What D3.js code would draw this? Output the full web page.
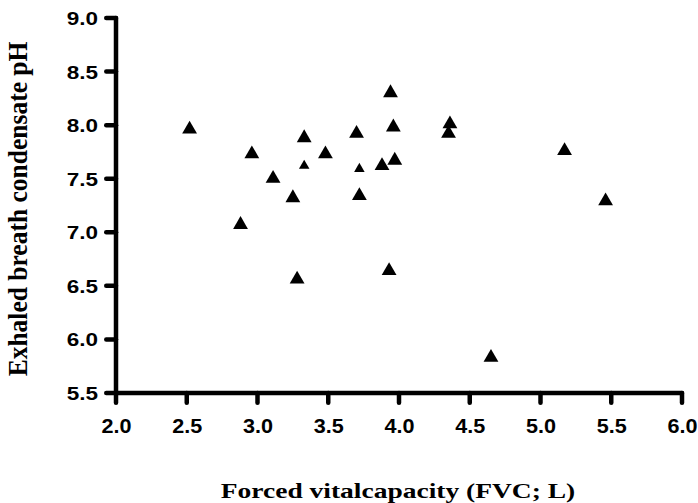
<!DOCTYPE html>
<html>
<head>
<meta charset="utf-8">
<script src="https://cdn.jsdelivr.net/npm/d3@7"></script>
<style>
  body { margin: 0; background: #fff; }
  svg { display: block; }
</style>
</head>
<body>
<svg class="plot" width="698" height="503"></svg>
<script>
// forced vital capacity (L) and exhaled breath condensate pH per subject
const fvc = [2.52, 2.96, 3.33, 3.33, 3.48, 3.11, 3.25, 2.88, 3.28, 3.70, 3.72,
  3.72, 3.88, 3.97, 3.96, 3.94, 3.93, 4.36, 4.35, 5.17, 5.46, 4.65]
const ph = [7.98, 7.75, 7.90, 7.64, 7.75, 7.52, 7.34, 7.09, 6.58, 7.94, 7.61,
  7.36, 7.64, 7.69, 8.00, 8.32, 6.66, 8.03, 7.94, 7.78, 7.31, 5.85]
// points drawn with the smaller marker
const smallMarker = [3, 10]

const xTicks = [2.0, 2.5, 3.0, 3.5, 4.0, 4.5, 5.0, 5.5, 6.0]
const yTicks = [5.5, 6.0, 6.5, 7.0, 7.5, 8.0, 8.5, 9.0]

const points = fvc.map((v, i) => ({ fvc: v, ph: ph[i], small: smallMarker.includes(i) }))

function renderPlot() {
  const svg = d3.select(".plot")
  const left = 116, right = 682, top = 18, bottom = 393
  const lw = 4.5, tickLen = 12

  const x = d3.scaleLinear().domain([2, 6]).range([left, right])
  const y = d3.scaleLinear().domain([5.5, 9]).range([bottom, top])

  const xAxis = svg.append("g")
    .attr("transform", `translate(0,${bottom})`)
    .call(d3.axisBottom(x).tickValues(xTicks).tickFormat(d3.format(".1f"))
      .tickSize(tickLen).tickSizeOuter(0))

  const yAxis = svg.append("g")
    .attr("transform", `translate(${left},0)`)
    .call(d3.axisLeft(y).tickValues(yTicks).tickFormat(d3.format(".1f"))
      .tickSize(tickLen).tickSizeOuter(0))

  // heavy axis lines drawn as filled bars (thin d3 strokes hidden)
  svg.selectAll(".domain, .tick line").attr("stroke", "none")

  const bars = svg.append("g").attr("fill", "#000")
  bars.append("rect")
    .attr("x", left - lw / 2).attr("y", top - lw / 2)
    .attr("width", lw).attr("height", bottom - top + lw)
    .attr("rx", lw / 2)
  bars.append("rect")
    .attr("x", left - lw / 2).attr("y", bottom - lw / 2)
    .attr("width", right - left + lw).attr("height", lw)
    .attr("rx", lw / 2)
  bars.selectAll(".xt").data(xTicks).enter().append("rect")
    .attr("x", d => x(d) - lw / 2).attr("y", bottom - lw / 2)
    .attr("width", lw).attr("height", tickLen + lw / 2)
    .attr("rx", lw / 2)
  bars.selectAll(".yt").data(yTicks).enter().append("rect")
    .attr("x", left - tickLen).attr("y", d => y(d) - lw / 2)
    .attr("width", tickLen + lw / 2).attr("height", lw)
    .attr("rx", lw / 2)

  svg.selectAll(".tick text")
    .attr("fill", "#000")
    .style("font-family", "'Liberation Sans', Arial, sans-serif")
    .style("font-weight", "bold")

  // tick labels are a little wider than the plain font
  xAxis.selectAll(".tick text")
    .style("font-size", "20px")
    .attr("y", 40)
    .attr("dy", 0)
    .attr("transform", "scale(1.08,1)")

  yAxis.selectAll(".tick text")
    .style("font-size", "18px")
    .attr("x", 0)
    .attr("dy", "0.36em")
    .attr("transform", "translate(-18,0) scale(1.25,1)")

  // X-axis label
  svg.append("text")
    .attr("transform", "translate(398,498) scale(1.25,1)")
    .attr("text-anchor", "middle")
    .style("font-family", "'Liberation Serif', 'Times New Roman', serif")
    .style("font-weight", "bold")
    .style("font-size", "22px")
    .text("Forced vitalcapacity (FVC; L)")

  // Y-axis label
  svg.append("text")
    .attr("transform", "translate(27,209) scale(1.25,1) rotate(-90) scale(1.16,1)")
    .attr("text-anchor", "middle")
    .style("font-family", "'Liberation Serif', 'Times New Roman', serif")
    .style("font-weight", "bold")
    .style("font-size", "22px")
    .text("Exhaled breath condensate pH")

  const big = d3.symbol().type(d3.symbolTriangle).size(95)
  const little = d3.symbol().type(d3.symbolTriangle).size(48)

  svg.append("g").selectAll("path")
    .data(points)
    .enter().append("path")
    .attr("transform", d => `translate(${x(d.fvc)},${y(d.ph) + 2})`)
    .attr("d", d => d.small ? little() : big())
    .attr("fill", "#000")
}

window.addEventListener("load", renderPlot)
</script>
</body>
</html>
